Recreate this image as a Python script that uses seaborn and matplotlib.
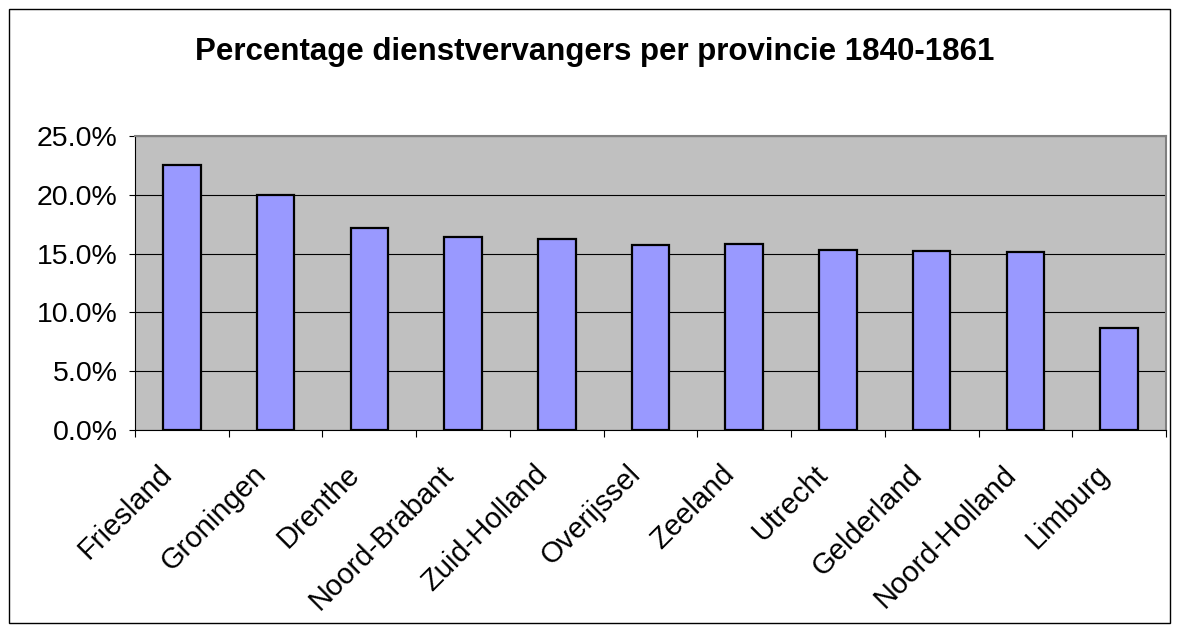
import matplotlib
matplotlib.use("Agg")
import matplotlib.pyplot as plt
import seaborn as sns
import pandas as pd
from matplotlib.patches import Rectangle
from matplotlib.ticker import FuncFormatter, FixedLocator
from matplotlib.transforms import ScaledTranslation

provinces = ["Friesland", "Groningen", "Drenthe", "Noord-Brabant", "Zuid-Holland",
             "Overijssel", "Zeeland", "Utrecht", "Gelderland", "Noord-Holland", "Limburg"]
percentages = [22.5, 20.0, 17.2, 16.4, 16.2, 15.7, 15.8, 15.3, 15.2, 15.1, 8.7]
yticks = [0, 5, 10, 15, 20, 25]
title = "Percentage dienstvervangers per provincie 1840-1861"

sns.set_style("white")
plt.rcParams['font.family'] = ['Liberation Sans', 'DejaVu Sans']

df = pd.DataFrame({"provincie": provinces, "pct": percentages})

fig = plt.figure(figsize=(11.79, 6.32), dpi=100)
ax = fig.add_axes([135/1179, 1 - 430/632, (1166-135)/1179, (430-136)/632])

sns.barplot(data=df, x="provincie", y="pct", color="#9999FF", width=0.4,
            edgecolor="black", linewidth=1.6, saturation=1, ax=ax, zorder=3)

ax.set_facecolor("#C0C0C0")
ax.set_ylim(0, 25)
ax.set_xlim(-0.5, len(provinces) - 0.5)
ax.set_yticks(yticks)
ax.yaxis.set_major_formatter(FuncFormatter(lambda v, p: f"{v:.1f}%"))
ax.grid(axis="y", color="black", linewidth=0.8, zorder=0)
ax.set_axisbelow(True)
ax.set_xlabel("")
ax.set_ylabel("")

ax.tick_params(axis="y", which="major", direction="out", length=4.5, width=0.8,
               color="black", labelsize=20.5, pad=8, left=True, labelcolor="black")
ax.tick_params(axis="x", which="major", length=0, labelsize=21, pad=31, labelcolor="black")
ax.xaxis.set_minor_locator(FixedLocator([i - 0.5 for i in range(len(provinces) + 1)]))
ax.tick_params(axis="x", which="minor", direction="out", length=5, width=0.8,
               color="black", bottom=True)
offset = ScaledTranslation(-14/100, 3/100, fig.dpi_scale_trans)
for lab in ax.get_xticklabels():
    lab.set_rotation(45)
    lab.set_ha("right")
    lab.set_va("center")
    lab.set_rotation_mode("anchor")
    lab.set_transform(lab.get_transform() + offset)

for side in ["top", "right"]:
    ax.spines[side].set_color("#808080")
    ax.spines[side].set_linewidth(1.5)
for side in ["left", "bottom"]:
    ax.spines[side].set_color("black")
    ax.spines[side].set_linewidth(0.8)

fig.text(595/1179, 1 - 52/632, title, ha="center", va="center",
         fontsize=22.5, fontweight="bold", color="black")

fig.patches.append(Rectangle((9/1179, 9/632), (1170-9)/1179, (623-9)/632,
                             transform=fig.transFigure, fill=False,
                             edgecolor="black", linewidth=1))

fig.savefig("out.png", dpi=100)
